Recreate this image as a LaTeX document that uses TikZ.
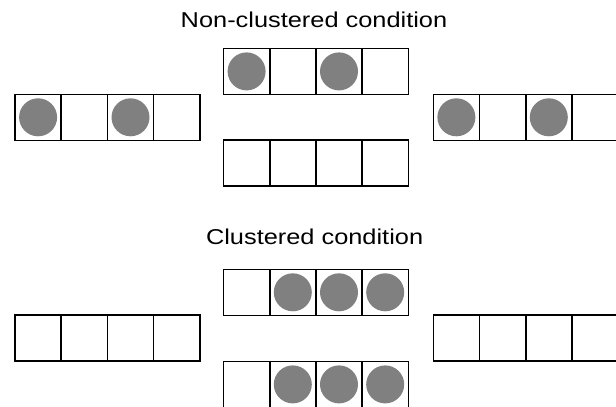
\documentclass[tikz,border=0pt]{standalone}
\usepackage{fontspec}
\setmainfont{Liberation Sans}
\definecolor{dotgray}{HTML}{808080}
\tikzset{
  cell/.style={draw=black, line width=1.6pt, minimum width=46.2pt, minimum height=46pt, inner sep=0pt, outer sep=0pt},
  dot/.style={circle, fill=dotgray, minimum size=38pt, inner sep=0pt},
  title/.style={font=\fontsize{21.5}{26}\selectfont, inner sep=0pt, xscale=1.18}
}
\newcommand\myrow[4]{%
  \foreach \f [count=\i] in {#4} {%
    \node[cell] (#1\i) at ({#2+23.1+46.2*(\i-1)}, #3) {};
    \ifnum\f=1 \node[dot] (#1d\i) at (#1\i) {};\fi
  }%
}
\begin{document}
\begin{tikzpicture}[x=1pt, y=-1pt]
  \useasboundingbox (0,0) rectangle (616,407);
  \node[title] (t1) at (314,19.8) {Non-clustered condition};
  \myrow{nt}{223.5}{71.4}{1,0,1,0}
  \myrow{nl}{15}{117.3}{1,0,1,0}
  \myrow{nr}{433.3}{117.3}{1,0,1,0}
  \myrow{nb}{223.5}{163.1}{0,0,0,0}
  \node[title] (t2) at (314.6,236.7) {Clustered condition};
  \myrow{ct}{223.5}{292.3}{0,1,1,1}
  \myrow{cl}{15}{338.1}{0,0,0,0}
  \myrow{cr}{433.3}{338.1}{0,0,0,0}
  \myrow{cb}{223.5}{384.4}{0,1,1,1}
\end{tikzpicture}
\end{document}
